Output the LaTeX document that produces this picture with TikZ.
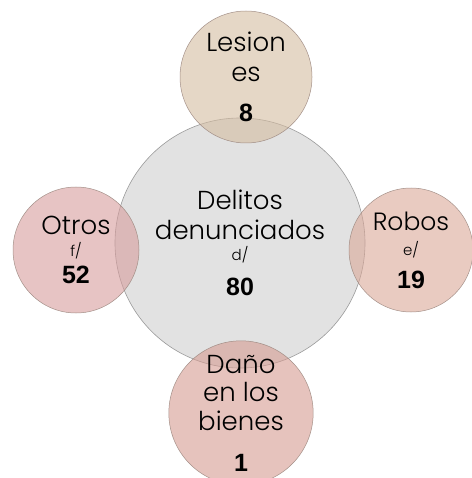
\documentclass[tikz,border=0pt]{standalone}
\usepackage{fontspec}
\setmainfont{Poppins Light}
\newfontfamily\numfont{Liberation Sans}
\usepackage{xcolor}
\definecolor{centrofill}{HTML}{E2E2E2}
\definecolor{centroline}{HTML}{9A9A9A}
\definecolor{lesionfill}{HTML}{D4BCA0}
\definecolor{robofill}{HTML}{DAA898}
\definecolor{danofill}{HTML}{D59B91}
\definecolor{otrofill}{HTML}{D79D9D}
\definecolor{satline}{HTML}{9C8880}
\usepackage{tikz}
\usetikzlibrary{positioning}

\newcommand{\num}[1]{{\numfont\bfseries\fontsize{25}{30}\selectfont #1}}
\newcommand{\nota}[1]{{\fontsize{15}{30}\selectfont #1}}

\begin{document}
\begin{tikzpicture}[x=1pt, y=-1pt,
  hub/.style={circle, draw=centroline, line width=0.6pt, fill=centrofill,
    minimum size=250pt, inner sep=0pt, align=center,
    font=\fontsize{26}{30}\selectfont},
  sat/.style={circle, draw=satline, line width=0.5pt, fill opacity=0.6,
    text opacity=1, draw opacity=0.9, minimum size=#1, inner sep=0pt,
    align=center, font=\fontsize{25}{30}\selectfont},
  sat/.default=124pt]
  \useasboundingbox (0,0) rectangle (471,478);

  \node[hub] (centro) at (240,243)
    {Delitos\\denunciados\\[-9pt]\nota{d/}\\[5pt]\num{80}};

  % Los cuatro tipos de delito alrededor
  \node[sat=132pt, fill=lesionfill, font=\fontsize{26}{30}\selectfont] (lesiones) at (246,77)
    {Lesion\\es\\[10pt]\num{8}};
  \node[sat, fill=robofill] (robos) at (411,250)
    {Robos\\[-5pt]\nota{e/}\\[3pt]\num{19}};
  \node[sat, fill=danofill, font=\fontsize{26}{30}\selectfont] (dano) at (241,413)
    {Daño\\[-2pt]en los\\[-1pt]bienes\\[11pt]\num{1}};
  \node[sat=126pt, fill=otrofill, font=\fontsize{26}{30}\selectfont] (otros) at (76,250)
    {Otros\\[-8pt]\nota{f/}\\[-3pt]\num{52}};
\end{tikzpicture}
\end{document}
